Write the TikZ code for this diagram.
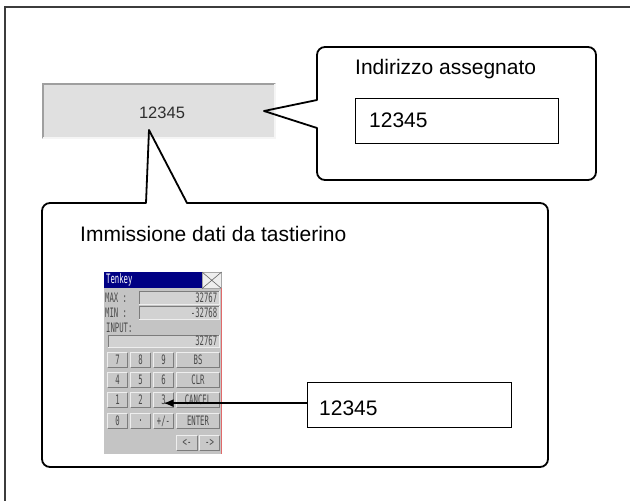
\documentclass[tikz,border=0pt]{standalone}
\usepackage{fontspec}
\usepackage{graphicx}
\setmainfont{Liberation Sans}
\newfontfamily\kpfont{DejaVu Sans Mono}
\usetikzlibrary{arrows.meta}

\definecolor{frameline}{HTML}{3C3C3C}
\definecolor{fieldgray}{HTML}{E0E0E0}
\definecolor{fieldtext}{HTML}{2E2E2E}
\definecolor{kpbody}{HTML}{C4C4C4}
\definecolor{kpkeyfill}{HTML}{C8C8C8}
\definecolor{kpfieldfill}{HTML}{D2D2D2}
\definecolor{kptitle}{HTML}{000084}
\definecolor{kptext}{HTML}{4A4A4A}
\definecolor{kplight}{HTML}{EEEEEE}
\definecolor{kpdark}{HTML}{7C7C7C}
\definecolor{kpedge}{HTML}{E06A6A}

% narrow bitmap-like lettering of the keypad window
\newcommand\kpx[1]{\scalebox{0.56}[1]{#1}}

\begin{document}
\begin{tikzpicture}[x=1pt, y=-1pt,
  frame/.style={draw=frameline, line width=1.5pt},
  callout/.style={draw=black, line width=1.8pt, line join=round},
  valbox/.style={draw=black, line width=1.3pt, inner sep=0, anchor=north west},
  label/.style={inner sep=0, anchor=base west, font=\fontsize{21}{24}\selectfont},
  kp/.style={inner sep=0, font=\kpfont\fontsize{13}{13}\selectfont, text=kptext},
  kpkey/.style={fill=kpkeyfill, inner sep=0, minimum height=14pt},
  kpfield/.style={fill=kpfieldfill, inner sep=0, anchor=north west},
  arr/.style={-{Latex[length=10pt,width=8pt]}, line width=1.5pt}
]
\useasboundingbox (0,0) rectangle (630,501);
\clip (0,0) rectangle (630,501);

% page frame, open towards the right and bottom
\draw[frame] (5,501) -- (5,7) -- (630,7);

% display field holding the value
\node[fill=fieldgray, draw=gray!35, line width=0.8pt, inner sep=0, anchor=north west,
      minimum width=233pt, minimum height=55pt] (field) at (42,83) {};
\draw[gray!75, line width=2pt] ([xshift=1pt,yshift=1pt]field.south west) -- ([xshift=1pt,yshift=-1pt]field.north west) -- ([xshift=-1pt,yshift=-1pt]field.north east);
\draw[white!92!gray, line width=1.5pt] ([xshift=-1pt,yshift=-1pt]field.north east) -- ([xshift=-1pt,yshift=1pt]field.south east) -- ([xshift=1pt,yshift=1pt]field.south west);
\node[inner sep=0, anchor=base, font=\fontsize{16.5}{18}\selectfont, text=fieldtext] (fieldval) at (162,118.3) {12345};

% callout: assigned address
\draw[callout] (264,111) -- (317,100) -- (317,55) arc[start angle=180, end angle=90, radius=8pt]
  -- (588,47) arc[start angle=90, end angle=0, radius=8pt]
  -- (596,172) arc[start angle=0, end angle=-90, radius=8pt]
  -- (325,180) arc[start angle=270, end angle=180, radius=8pt]
  -- (317,128) -- cycle;
\node[label] (addrlab) at (355,74) {Indirizzo assegnato};
\node[valbox, minimum width=203pt, minimum height=45pt] (addrbox) at (355,98) {};
\node[label] (addrval) at (369,127.5) {12345};

% callout: keypad entry
\draw[callout] (149,130) -- (187,203) -- (540,203) arc[start angle=90, end angle=0, radius=8pt]
  -- (548,459) arc[start angle=0, end angle=-90, radius=8pt]
  -- (50,467) arc[start angle=270, end angle=180, radius=8pt]
  -- (42,211) arc[start angle=180, end angle=90, radius=8pt]
  -- (146,203) -- cycle;
\node[label] (kplab) at (80,241) {Immissione dati da tastierino};

% keypad window
\fill[kpbody] (104,272) rectangle (221,454);
\fill[kptitle] (104,272) rectangle (202,288);
\node[kp, text=white, anchor=west] (kptitletext) at (106,280) {\kpx{Tenkey}};
\node[fill=kplight, draw=gray!70, line width=0.6pt, inner sep=0, anchor=north west,
      minimum width=19pt, minimum height=16pt] (kpclose) at (202,272) {};
\draw[gray!80!black, line width=0.6pt] (kpclose.north west) -- (kpclose.south east)
      (kpclose.north east) -- (kpclose.south west);
\draw[kpedge, line width=0.9pt] (221,288) -- (221,454);

% limits and input fields
\node[kp, anchor=west] (maxlab) at (105,298) {\kpx{MAX :}};
\node[kpfield, minimum width=80pt, minimum height=13pt] (maxfield) at (139,291) {};
\node[kp, anchor=west] (minlab) at (105,313) {\kpx{MIN :}};
\node[kpfield, minimum width=80pt, minimum height=13pt] (minfield) at (139,306) {};
\node[kp, anchor=west] (inlab) at (106,328) {\kpx{INPUT:}};
\node[kpfield, minimum width=111pt, minimum height=12pt] (infield) at (108,335) {};
\foreach \f in {maxfield,minfield,infield}{
  \draw[kpdark, line width=0.8pt] (\f.south west) |- (\f.north east);
  \draw[kplight, line width=0.8pt] (\f.south west) -| (\f.north east);
}
\node[kp, anchor=east] (maxval) at ([xshift=-2pt]maxfield.east) {\kpx{32767}};
\node[kp, anchor=east] (minval) at ([xshift=-2pt]minfield.east) {\kpx{-32768}};
\node[kp, anchor=east] (inval) at ([xshift=-2pt]infield.east) {\kpx{32767}};

% keys
\foreach \n/\a/\b/\c/\t in {k7/108/127/360/7, k8/131/150/360/8, k9/154/173/360/9, kbs/177/219/360/BS,
    k4/108/127/380/4, k5/131/150/380/5, k6/154/173/380/6, kclr/177/219/380/CLR,
    k1/108/127/400/1, k2/131/150/400/2, k3/154/173/400/3, kcancel/177/219/400/CANCEL,
    k0/108/127/421/0, kdot/131/150/421/., kpm/154/173/421/{+/-}, kenter/177/219/421/ENTER,
    kleft/177/197/443/{<-}, kright/200/219/443/{->}}{
  \node[kpkey, kp, minimum width={(\b-\a)*1pt}] (\n) at ({(\a+\b)/2},\c) {\kpx{\t}};
  \draw[kplight, line width=1pt] (\n.south west) |- (\n.north east);
  \draw[kpdark, line width=1pt] (\n.south west) -| (\n.north east);
}

% value typed on the keypad
\node[valbox, minimum width=204pt, minimum height=45pt] (typedbox) at (307,382) {};
\node[label] (typedval) at (319,415) {12345};
\coordinate (typedstart) at ([yshift=2pt]typedbox.west);
\draw[arr] (typedstart) -- (typedstart -| k3.center);
\end{tikzpicture}
\end{document}
